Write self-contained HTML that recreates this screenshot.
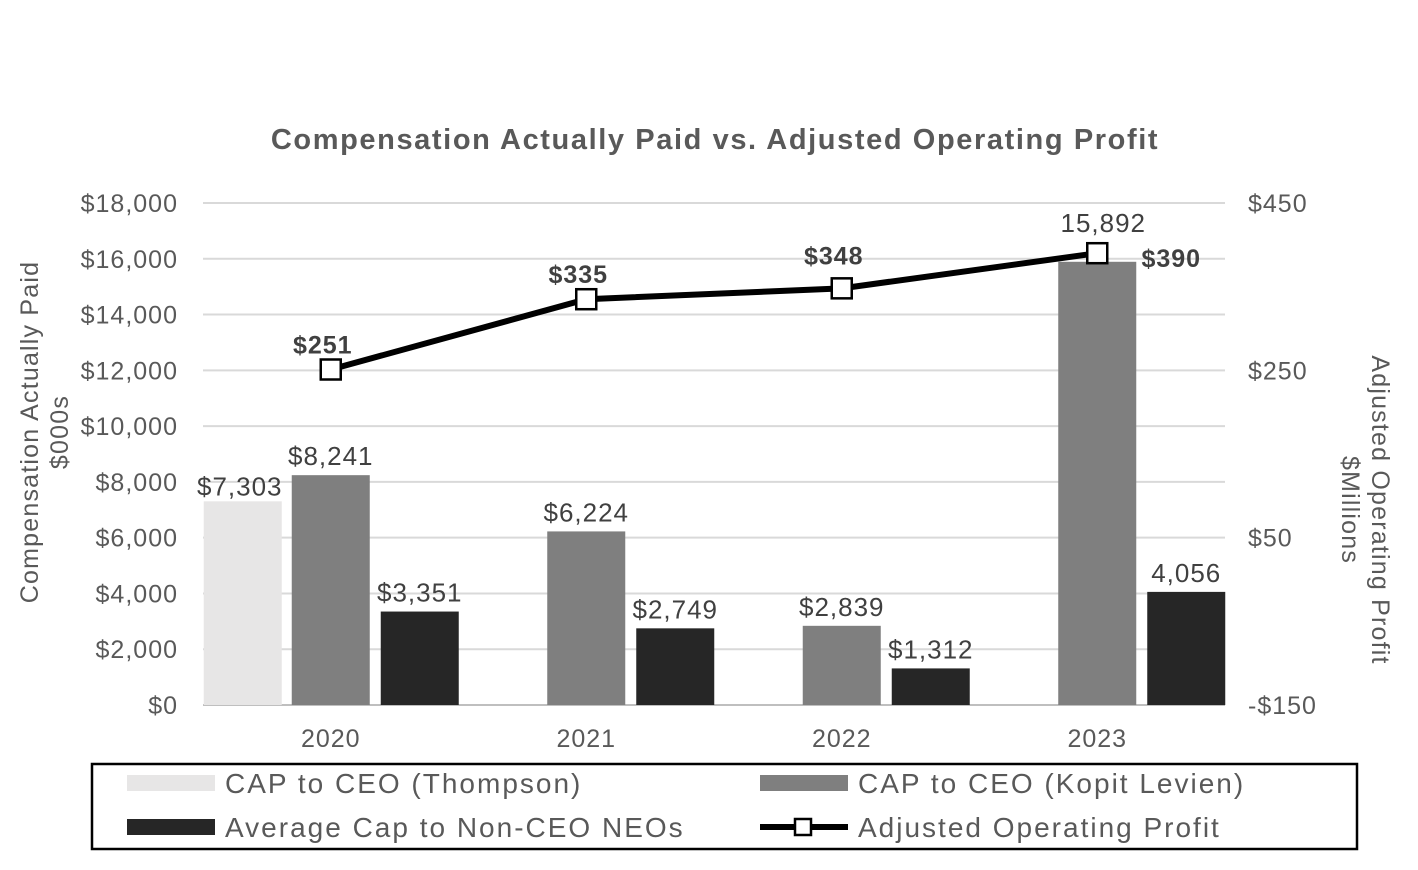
<!DOCTYPE html>
<html><head><meta charset="utf-8"><style>
body{margin:0;background:#fff;}
svg{display:block;font-family:"Liberation Sans",Arial,sans-serif;}
</style></head><body>
<svg id="c" width="1418" height="870" xmlns="http://www.w3.org/2000/svg">
<text x="715" y="149" text-anchor="middle" font-size="29" letter-spacing="1.6" font-weight="bold" fill="#595959">Compensation Actually Paid vs. Adjusted Operating Profit</text>
<g id="grid"></g><g id="bars"></g><g id="line"></g><g id="labels"></g>
<text transform="translate(38,432) rotate(-90)" text-anchor="middle" font-size="25" letter-spacing="1.2" fill="#595959">Compensation Actually Paid</text>
<text transform="translate(68,432) rotate(-90)" text-anchor="middle" font-size="25" letter-spacing="1.2" fill="#595959">$000s</text>
<text transform="translate(1372,510) rotate(90)" text-anchor="middle" font-size="25" letter-spacing="1.2" fill="#595959">Adjusted Operating Profit</text>
<text transform="translate(1342,510) rotate(90)" text-anchor="middle" font-size="25" letter-spacing="1.2" fill="#595959">$Millions</text>
<g font-size="28" letter-spacing="2">
<rect x="92" y="764" width="1265" height="85" fill="none" stroke="#000" stroke-width="2.5"/>
<rect x="127" y="775" width="88" height="16" fill="#e7e6e6"/>
<text x="225" y="793" fill="#595959">CAP to CEO (Thompson)</text>
<rect x="760" y="775" width="88" height="16" fill="#7f7f7f"/>
<text x="858" y="793" fill="#595959">CAP to CEO (Kopit Levien)</text>
<rect x="127" y="819" width="88" height="16" fill="#262626"/>
<text x="225" y="837" fill="#595959">Average Cap to Non-CEO NEOs</text>
<line x1="760" y1="827" x2="848" y2="827" stroke="#000" stroke-width="6"/>
<rect x="795" y="819" width="16" height="16" fill="#fff" stroke="#000" stroke-width="2.5"/>
<text x="858" y="837" fill="#595959">Adjusted Operating Profit</text>
</g>
</svg>
<script>
const categories=["2020","2021","2022","2023"];
const thompson=[7303,null,null,null];
const kopit=[8241,6224,2839,15892];
const neo=[3351,2749,1312,4056];
const profit=[251,335,348,390];
const kopitLabels=["$8,241","$6,224","$2,839","15,892"];
const neoLabels=["$3,351","$2,749","$1,312","4,056"];
const thompsonLabels=["$7,303","","",""];
const profitLabels=["$251","$335","$348","$390"];
const leftTicks=[0,2000,4000,6000,8000,10000,12000,14000,16000,18000];
const rightTicks=[-150,50,250,450];
const NS="http://www.w3.org/2000/svg";
const X0=203,X1=1225,Y0=705,Y1=203;
const yL=v=>Y0-(v/18000)*(Y0-Y1);
const yR=v=>Y0-((v+150)/600)*(Y0-Y1);
const band=(X1-X0)/categories.length;
const xC=i=>X0+band*(i+0.5);
function mk(tag,attrs,parent,txt){const e=document.createElementNS(NS,tag);for(const k in attrs)e.setAttribute(k,attrs[k]);if(txt!==undefined)e.textContent=txt;document.getElementById(parent).appendChild(e);return e;}
const fmt=v=>"$"+v.toLocaleString("en-US");
leftTicks.forEach(v=>{
 const g=mk("line",{x1:X0,x2:X1,y1:yL(v),y2:yL(v),stroke:v===0?"#bfbfbf":"#d9d9d9","stroke-width":2},"grid");
 
 
 const t=mk("text",{x:178,y:yL(v)+9,"text-anchor":"end","font-size":25,"letter-spacing":1,fill:"#595959"},"grid",fmt(v));
 
 
});
rightTicks.forEach(v=>{
 const t=mk("text",{x:1248,y:yR(v)+9,"font-size":25,"letter-spacing":1,fill:"#595959"},"grid",(v<0?"-$"+(-v):"$"+v));
 
 
});
const BW=78,offs=[-127,-39,50];
const series=[[thompson,"#e7e6e6",thompsonLabels,"thompson"],[kopit,"#7f7f7f",kopitLabels,"kopit"],[neo,"#262626",neoLabels,"neo"]];
categories.forEach((c,i)=>{
 const t=mk("text",{x:xC(i),y:747,"text-anchor":"middle","font-size":25,"letter-spacing":1,fill:"#595959"},"labels",c);
 
 
 series.forEach((s,k)=>{
  const v=s[0][i]; if(v==null) return;
  const x=xC(i)+offs[k];
  const r=mk("rect",{x:x,y:yL(v),width:BW,height:Y0-yL(v),fill:s[1]},"bars");
  
  
  let lx=x+BW/2, ly=yL(v)-10;
  if(k===0){lx=x+BW/2-3;ly=yL(v)-6;}
  if(k===1&&i===categories.length-1){lx=x+BW/2+6;ly=yL(v)-30;}
  const l=mk("text",{x:lx,y:ly,"text-anchor":"middle","font-size":26,"letter-spacing":1,fill:"#404040"},"labels",s[2][i]);
  
  
 });
});
const pts=profit.map((v,i)=>[xC(i),yR(v)]);
const pl=mk("polyline",{points:pts.map(p=>p.join(",")).join(" "),fill:"none",stroke:"#000","stroke-width":6},"line");


pts.forEach((p,i)=>{
 const m=mk("rect",{x:p[0]-10,y:p[1]-10,width:20,height:20,fill:"#fff",stroke:"#000","stroke-width":2.5},"line");
 
 
 const last=i===profit.length-1;
 const ly=last?p[1]+14:(i===2?p[1]-24:p[1]-16);
 const l=mk("text",{x:last?p[0]+74:p[0]-8,y:ly,"text-anchor":"middle","font-size":25,"font-weight":"bold","letter-spacing":1,fill:"#404040"},"labels",profitLabels[i]);
 
 
});
</script>
</body></html>
